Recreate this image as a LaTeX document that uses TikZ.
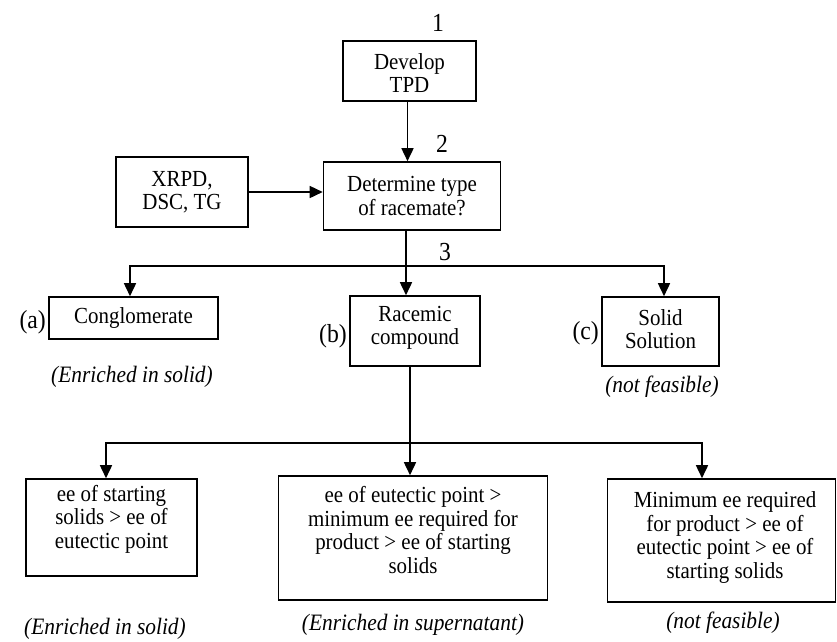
\documentclass[tikz,border=0pt]{standalone}
\usepackage{fontspec}
\setmainfont{Liberation Serif}[FakeStretch=0.91]
\usetikzlibrary{arrows.meta}
\tikzset{
  box/.style={draw, line width=1.6pt, inner sep=0pt, align=center,
    font=\fontsize{23}{23.5}\selectfont},
  boxtext/.style={inner sep=0pt, align=center, font=\fontsize{23}{23.5}\selectfont},
  arr/.style={line width=1.6pt, -{Triangle[width=12pt,length=13pt]}},
  ln/.style={line width=1.6pt},
  num/.style={inner sep=0pt, font=\fontsize{26}{27}\selectfont},
  note/.style={inner sep=0pt, font=\fontsize{23.5}{24}\selectfont\itshape}
}
\begin{document}
\begin{tikzpicture}[x=1pt,y=-1pt]
\useasboundingbox (0,0) rectangle (837,641);
% boxes
\node[box, minimum width=133pt, minimum height=60pt] (dev) at (409.5,71) {};
\node[boxtext] (devt) at (409.5,73) {Develop\\TPD};
\node[box, minimum width=132pt, minimum height=70pt] (xrpd) at (182,192) {XRPD,\\DSC, TG};
\node[box, minimum width=177pt, minimum height=68pt] (det) at (412,196) {Determine type\\of racemate?};
\node[box, minimum width=169pt, minimum height=42pt] (cong) at (133.5,318) {Conglomerate};
\node[box, minimum width=130pt, minimum height=70pt] (rac) at (415,331) {};
\node[boxtext] (ract) at (415,328) {Racemic\\compound};
\node[box, minimum width=117pt, minimum height=69pt] (sol) at (660.5,331.5) {};
\node[boxtext] (solt) at (660.5,329) {Solid\\Solution};
\node[box, minimum width=171pt, minimum height=97pt] (b1) at (111.5,527.5) {};
\node[boxtext] (b1t) at (111.5,519) {ee of starting\\solids > ee of\\eutectic point};
\node[box, minimum width=269pt, minimum height=124pt] (b2) at (413,538) {};
\node[boxtext] (b2t) at (413,530) {ee of eutectic point >\\minimum ee required for\\product > ee of starting\\solids};
\node[box, minimum width=228pt, minimum height=123pt] (b3) at (721.5,540.5) {};
\node[boxtext] (b3t) at (725,537.5) {Minimum ee required\\for product > ee of\\eutectic point > ee of\\starting solids};
% numbers and letters
\node[num] (n1) at (438,23) {1};
\node[num] (n2) at (442,144) {2};
\node[num] (n3) at (445,252) {3};
\node[num, anchor=east] (la) at (46,322) {(a)};
\node[num, anchor=east] (lb) at (347,336) {(b)};
\node[num, anchor=east] (lc) at (599,333) {(c)};
% notes
\node[note] (e1) at (132,377) {(Enriched in solid)};
\node[note] (f1) at (662,387) {(not feasible)};
\node[note] (e2) at (105,629) {(Enriched in solid)};
\node[note] (e3) at (413,625) {(Enriched in supernatant)};
\node[note] (f2) at (723,623) {(not feasible)};
% connectors
\draw[arr] ([xshift=-2pt]dev.south) -- ([xshift=-2pt]dev.south |- det.north);
\draw[arr] (xrpd.east) -- (xrpd.east -| det.west);
\coordinate (j1) at (406,266);
\coordinate (jl) at (130,266);
\coordinate (jr) at (664,266);
\draw[ln] (det.south -| j1) -- (j1);
\draw[arr] (j1) -- (jl) -- (jl |- cong.north);
\draw[arr] (j1) -- (jr) -- (jr |- sol.north);
\draw[arr] (j1) -- (j1 |- rac.north);
\coordinate (j2) at (410,443);
\coordinate (jl2) at (106,443);
\coordinate (jr2) at (702,443);
\draw[ln] (rac.south -| j2) -- (j2);
\draw[arr] (j2) -- (jl2) -- (jl2 |- b1.north);
\draw[arr] (j2) -- (jr2) -- (jr2 |- b3.north);
\draw[arr] (j2) -- (j2 |- b2.north);
\end{tikzpicture}
\end{document}
